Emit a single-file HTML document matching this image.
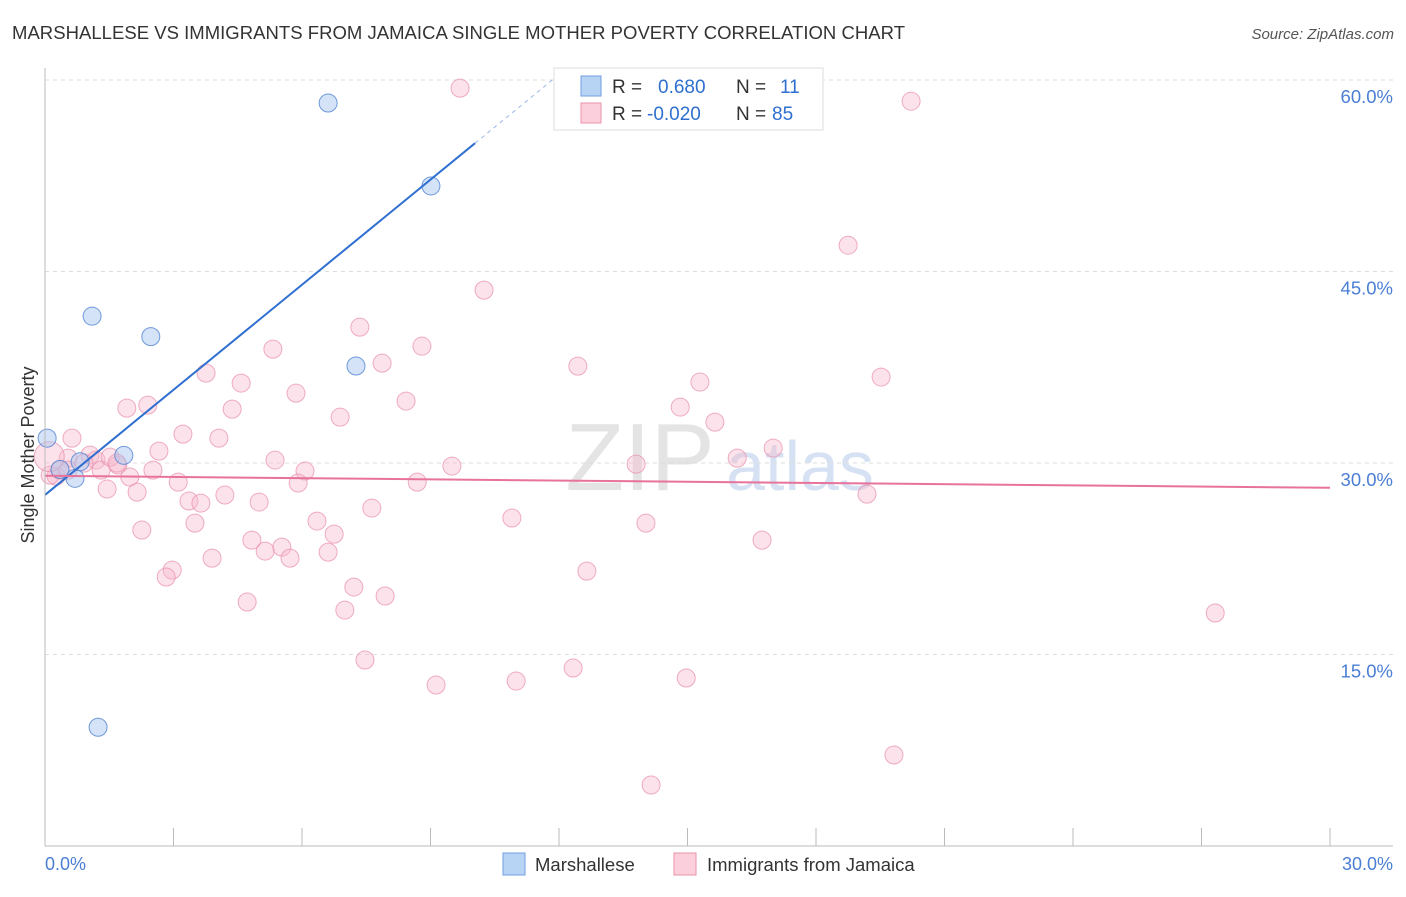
<!DOCTYPE html>
<html><head><meta charset="utf-8"><style>
body{margin:0;background:#fff;font-family:"Liberation Sans",sans-serif}
svg text{font-family:"Liberation Sans",sans-serif}
</style></head><body>
<svg id="c" width="1406" height="892" xmlns="http://www.w3.org/2000/svg">
<text x="12" y="39" font-size="18.5" fill="#333" textLength="893">MARSHALLESE VS IMMIGRANTS FROM JAMAICA SINGLE MOTHER POVERTY CORRELATION CHART</text>
<text x="1394" y="39" font-size="15" fill="#555" font-style="italic" text-anchor="end">Source: ZipAtlas.com</text>
<text x="640" y="490" font-size="96" fill="#e4e4e4" font-family="Liberation Serif" text-anchor="middle">ZIP</text>
<text x="800" y="490" font-size="70" fill="#d6e2f3" text-anchor="middle">atlas</text>
<g id="grid"></g><g id="pts"></g><g id="lines"></g>
<line x1="45" y1="68" x2="45" y2="846" stroke="#bbb"/>
<line x1="45" y1="846" x2="1393" y2="846" stroke="#bbb"/>
<text transform="translate(34,455) rotate(-90)" font-size="18" fill="#333" text-anchor="middle">Single Mother Poverty</text>
<text x="45" y="870" font-size="18" fill="#4a7fd4">0.0%</text>
<text x="1393" y="870" font-size="18" fill="#4a7fd4" text-anchor="end">30.0%</text>
<g>
<rect x="503" y="853" width="22" height="22" fill="#b8d4f5" stroke="#6f9ee0"/>
<text x="535" y="871" font-size="18.5" fill="#333">Marshallese</text>
<rect x="674" y="853" width="22" height="22" fill="#fbd0dc" stroke="#eb92ad"/>
<text x="707" y="871" font-size="18.5" fill="#333">Immigrants from Jamaica</text>
</g>
<g>
<rect x="554" y="68" width="269" height="62" fill="#fff" stroke="#ddd"/>
<rect x="581" y="76" width="20" height="20" fill="#b8d4f5" stroke="#6f9ee0"/>
<rect x="581" y="103" width="20" height="20" fill="#fbd0dc" stroke="#eb92ad"/>
<text x="612" y="93" font-size="19" fill="#333">R = <tspan x="658" fill="#2f6fd0">0.680</tspan><tspan x="736">N = </tspan><tspan x="780" fill="#2f6fd0">11</tspan></text>
<text x="612" y="120" font-size="19" fill="#333">R = <tspan x="647" fill="#2f6fd0">-0.020</tspan><tspan x="736">N = </tspan><tspan x="772" fill="#2f6fd0">85</tspan></text>
</g>
</svg>
<script>
const yTicks=[15,30,45,60];
const xTicks=[0,3,6,9,12,15,18,21,24,27,30];
const blueX=[0.05,0.35,0.7,0.82,1.84,1.1,2.47,1.24,6.61,7.26,9.01];
const blueY=[31.95,29.5,28.8,30.1,30.6,41.5,39.9,9.3,58.2,37.6,51.7];
const pinkX=[9.69,20.22,18.75,10.25,7.35,5.32,8.80,7.87,12.44,3.76,19.52,4.58,15.29,5.86,8.43,1.91,2.40,4.37,6.89,14.83,15.64,0.63,3.22,4.06,2.66,17.00,0.54,1.05,1.19,5.37,16.16,9.50,13.80,1.70,2.52,6.07,1.31,1.98,0.26,3.11,8.69,5.91,1.45,2.15,19.19,3.36,3.64,4.20,5.00,7.63,6.35,10.90,3.50,14.03,2.26,6.75,4.83,16.74,5.14,5.53,6.61,5.72,3.90,2.97,2.83,12.65,7.21,7.94,4.72,27.32,7.00,7.47,12.33,11.00,14.97,9.13,19.82,14.15,0.12,0.35,0.91,0.54,1.52,1.68,0.1];
const pinkY=[59.36,58.34,47.06,43.54,40.64,38.92,39.15,37.82,37.59,37.04,36.73,36.26,36.34,35.47,34.85,34.30,34.53,34.22,33.59,34.38,33.20,31.95,32.26,31.95,30.93,31.17,30.38,30.62,30.23,30.23,30.38,29.76,29.91,29.84,29.44,29.37,29.44,28.90,28.97,28.50,28.50,28.43,27.96,27.72,27.56,27.02,26.86,27.49,26.94,26.47,25.45,25.69,25.29,25.29,24.75,24.43,23.96,23.96,23.10,23.41,23.02,22.55,22.55,21.61,21.07,21.53,20.28,19.58,19.11,18.25,18.48,14.57,13.94,12.92,13.16,12.61,7.13,4.78,29.05,29.44,29.99,29.44,30.46,29.99,30.5];
const blueFit=[27.5,55.05];
const pinkFit=[29.0,28.06];
const NS="http://www.w3.org/2000/svg";
const X=v=>45+v*(1285/30);
const Y=v=>846-v*(191.5/15);
function mk(t,a,p){const e=document.createElementNS(NS,t);for(const k in a)e.setAttribute(k,a[k]);p.appendChild(e);return e;}
const grid=document.getElementById('grid'),pts=document.getElementById('pts'),lines=document.getElementById('lines');
yTicks.forEach(t=>{
const l=mk('line',{x1:45,x2:1393,y1:Y(t),y2:Y(t),stroke:'#ddd','stroke-dasharray':'4,4'},grid);


const tx=mk('text',{x:1393,y:Y(t)+23,'font-size':18.5,fill:'#4a7fd4','text-anchor':'end'},grid);
tx.textContent=t.toFixed(1)+'%';


});
xTicks.forEach(t=>{
const l=mk('line',{x1:X(t),x2:X(t),y1:828,y2:846,stroke:'#bbb'},grid);


});
pinkX.forEach((v,i)=>{
const c=mk('circle',{cx:X(v),cy:Y(pinkY[i]),r:i==pinkX.length-1?15:9,fill:'rgba(248,185,205,0.4)',stroke:'rgba(232,140,170,0.7)','stroke-width':1},pts);


});
blueX.forEach((v,i)=>{
const c=mk('circle',{cx:X(v),cy:Y(blueY[i]),r:9,fill:'rgba(170,200,240,0.5)',stroke:'rgba(80,130,210,0.8)','stroke-width':1},pts);


});
const bs=(blueFit[1]-blueFit[0])/10.04;
let l1=mk('line',{x1:X(0),y1:Y(blueFit[0]),x2:X(10.04),y2:Y(blueFit[1]),stroke:'#2f6fd0','stroke-width':2},lines);


let l2=mk('line',{x1:X(10.04),y1:Y(blueFit[1]),x2:X(11.85),y2:Y(blueFit[0]+bs*11.85),stroke:'#9bb8e6','stroke-width':1,'stroke-dasharray':'4,4'},lines);


let l3=mk('line',{x1:X(0),y1:Y(pinkFit[0]),x2:X(30),y2:Y(pinkFit[1]),stroke:'#e8739a','stroke-width':2},lines);


</script>
</body></html>
